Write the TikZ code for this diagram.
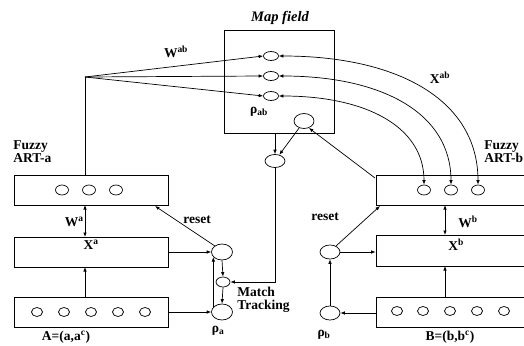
\documentclass[tikz,border=0pt]{standalone}
\usepackage{fontspec}
\setmainfont{Liberation Serif}
\usetikzlibrary{arrows.meta,shapes.geometric,calc}
\begin{document}
\begin{tikzpicture}[x=1pt,y=-1pt,
  line width=0.7pt,
  >={Latex[length=4.5pt,width=3.5pt]},
  lbl/.style={font=\bfseries\fontsize{13.5}{13}\selectfont, inner sep=0pt, align=left},
  ell/.style args={#1x#2}{ellipse,draw,inner sep=0pt,minimum width=#1pt,minimum height=#2pt},
  layer/.style args={#1x#2}{rectangle,draw,inner sep=0pt,minimum width=#1pt,minimum height=#2pt}
]
\useasboundingbox (0,0) rectangle (524,345);

% ---------- Map field ----------
\node[layer=110x103] (map) at (279,81.5) {};
\node[font=\bfseries\itshape\fontsize{14.5}{14}\selectfont, inner sep=0pt] (maplbl) at (280,18) {Map field};
\node[ell=15x9] (m1) at (271,56) {};
\node[ell=15x9] (m2) at (271,76) {};
\node[ell=15x9] (m3) at (271,96) {};
\node[ell=20x15] (mc) at (304,121) {};
\node[lbl] (rhoab) at (259,112) {ρ\textsubscript{ab}};
\node[ell=20x13] (le) at (275,161) {};

% ---------- ART-a ----------
\node[lbl] (fuzzya) at (13,152) [anchor=west] {Fuzzy\\ART-a};
\node[layer=154x30] (a2) at (91,190) {};
\node[layer=154x30] (a1) at (91,252) {};
\node[layer=154x30] (a0) at (91,312) {};
\foreach \x [count=\i] in {62,89,116} \node[ell=13x10] (a2c\i) at (\x,190) {};
\foreach \x [count=\i] in {37,64,91,118,145} \node[ell=11x9] (a0c\i) at (\x,312) {};
\node[lbl] (xa) at (91,245) {X\textsuperscript{a}};
\node[lbl,anchor=east] (wa) at (84,222) {W\textsuperscript{a}};
\node[lbl] (Alb) at (66,337) {A=(a,a\textsuperscript{c})};

\node[ell=21x16] (ra) at (222,252) {};
\node[ell=14x10] (mt) at (223,282) {};
\node[ell=21x16] (pa) at (222,312) {};
\node[lbl] (resa) at (197,220) {reset};
\node[lbl,anchor=north west] (mtl) at (237,287) {Match\\Tracking};
\node[lbl] (rhoa) at (218,331) {ρ\textsubscript{a}};

% ---------- ART-b ----------
\node[lbl] (fuzzyb) at (484,152) [anchor=west] {Fuzzy\\ART-b};
\node[layer=184x30] (b2) at (468,190) {};
\node[layer=184x31] (b1) at (468,250.5) {};
\node[layer=184x30] (b0) at (468,312) {};
\foreach \x [count=\i] in {424,451,478} \node[ell=13x10] (b2c\i) at (\x,190) {};
\foreach \x [count=\i] in {397,423,450,477,504} \node[ell=11x9] (b0c\i) at (\x,311) {};
\node[lbl] (xb) at (456,245) {X\textsuperscript{b}};
\node[lbl,anchor=west] (wb) at (458,222) {W\textsuperscript{b}};
\node[lbl] (Blb) at (450,337) {B=(b,b\textsuperscript{c})};

\node[ell=20x14] (rb) at (330,252) {};
\node[ell=20x14] (pb) at (330,313) {};
\node[lbl] (resb) at (325,217) {reset};
\node[lbl] (rhob) at (324,335) {ρ\textsubscript{b}};

% ---------- labels of weights ----------
\node[lbl] (wab) at (176,52) {W\textsuperscript{ab}};
\node[lbl] (xab) at (440,78) {X\textsuperscript{ab}};

% ---------- connectors ----------
\coordinate (f) at (85,77);
\draw (f) -- (f |- a2.north);
\draw[->] (f) -- (m1.west);
\draw[->] (f) -- (m2.west);
\draw[->] (f) -- (m3.west);

\draw[<->] (85,205) -- (85,237);
\draw[->] (85,297) -- (85,267);
\draw[->] (a1.east) -- (ra.west);
\draw[->] (a0.east) -- (pa.west);
\draw[->] (ra.140) -- (155,206);
\draw[->] (ra.south) -- (mt.north);
\draw[->] (mt.south) -- (pa.north);
\draw[->] (pa.150) -- (ra.210);

\draw[->] (le.south) |- (mt.east);
\draw[->] (le.north |- map.south) -- (le.north);
\draw[->] (mc.235) -- (le.55);
\draw[->] (375,178) -- (mc.-55);

\draw[<->] (445,205) -- (445,235);
\draw[->] (445,297) -- (445,266);
\draw[->] (rb.east) -- (b1.west |- rb.east);
\draw[->] (rb.45) -- (380,206);
\draw[->] (b0.west |- pb.east) -- (pb.east);
\draw[->] (pb.north) -- (rb.south);

\draw[<->] (m1.east) .. controls (398,56) and (478,100) .. (b2c3.north);
\draw[<->] (m2.east) .. controls (382,76) and (451,113) .. (b2c2.north);
\draw[<->] (m3.east) .. controls (365,96) and (424,126) .. (b2c1.north);
\end{tikzpicture}
\end{document}
